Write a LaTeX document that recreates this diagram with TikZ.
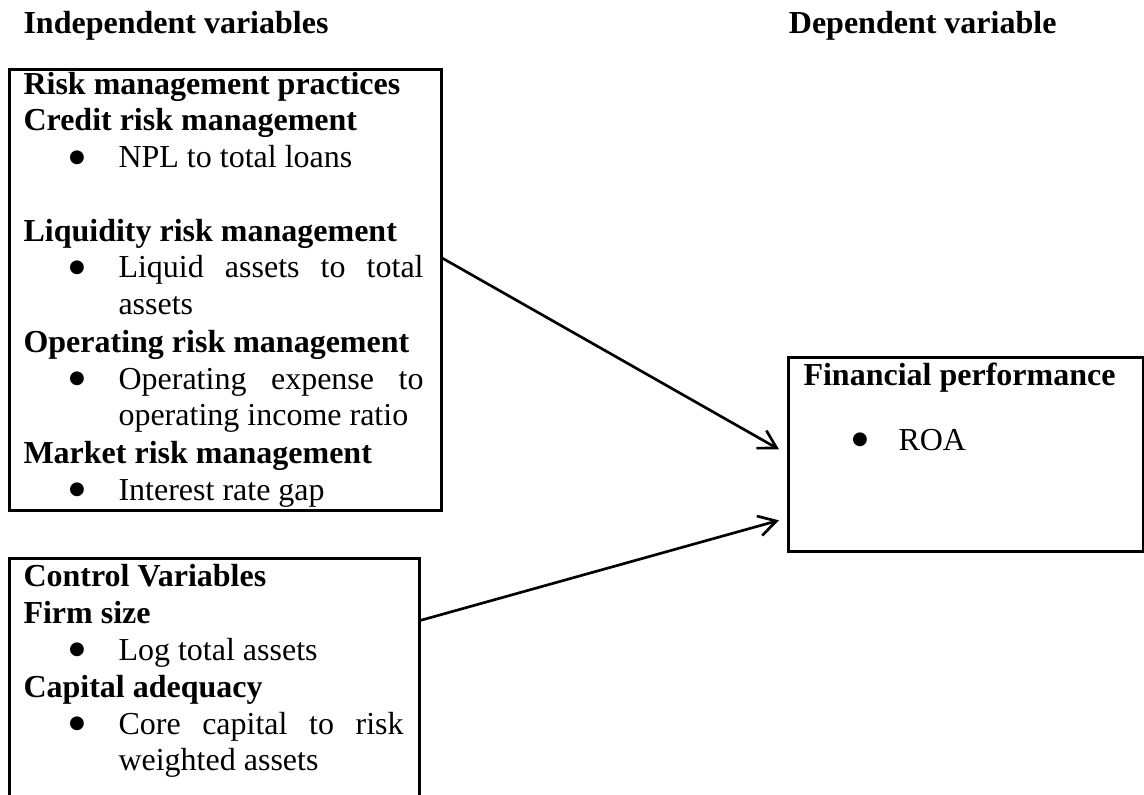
\documentclass[tikz,border=0pt]{standalone}
\usepackage{fontspec}
\setmainfont{Liberation Serif}
\newfontfamily\dejavu{DejaVu Sans}
\usetikzlibrary{arrows.meta,calc}
\newcommand{\bigbul}{\raisebox{2.0pt}{\dejavu\fontsize{6.8}{7}\selectfont ●}}
\begin{document}
\begin{tikzpicture}[x=0.375pt,y=-0.375pt,
  boxnode/.style={draw,line width=1pt,rectangle,inner sep=0pt,anchor=north west},
  boldtxt/.style={inner sep=0pt,anchor=base west,font=\fontsize{12}{13.9}\selectfont\bfseries},
  plaintxt/.style={inner sep=0pt,anchor=base west,font=\fontsize{12}{13.9}\selectfont},
  bul/.style={inner sep=0pt,anchor=base},
  arr/.style={line width=1pt,-{Straight Barb[length=6.6pt,width=7.6pt]}}]
\fill[white] (0,0) rectangle (1144,795);
\clip (0,0) rectangle (1144,795);

% headers
\node[boldtxt] (hind) at (23,34) {Independent variables};
\node[boldtxt,anchor=base east] (hdep) at (1057,34) {Dependent variable};

% box 1
\node[boxnode,minimum width=162pt,minimum height=165.375pt] (box1) at (8,68) {};
\node[boldtxt] (t1) at (23,95) {Risk management practices};
\node[boldtxt] (t2) at (23,131) {Credit risk management};
\node[bul] (b1) at (77,168) {\bigbul};
\node[plaintxt] (t3) at (118,168) {NPL to total loans};
\node[boldtxt] (t4) at (23,241) {Liquidity risk management};
\node[bul] (b2) at (77,278) {\bigbul};
\node[plaintxt] (t5) at (118,278) {\makebox[114.4pt][s]{Liquid assets to total}};
\node[plaintxt] (t6) at (118,315) {assets};
\node[boldtxt] (t7) at (23,352) {Operating risk management};
\node[bul] (b3) at (77,389) {\bigbul};
\node[plaintxt] (t8) at (118,389) {\makebox[114.4pt][s]{Operating expense to}};
\node[plaintxt] (t9) at (118,426) {operating income ratio};
\node[boldtxt] (t10) at (23,463) {Market risk management};
\node[bul] (b4) at (77,500) {\bigbul};
\node[plaintxt] (t11) at (118,500) {Interest rate gap};

% box 2 (control variables, cut by the page edge)
\node[boxnode,minimum width=153.75pt,minimum height=91.125pt] (box2) at (8,557) {};
\node[boldtxt] (c1) at (23,587) {Control Variables};
\node[boldtxt] (c2) at (23,623) {Firm size};
\node[bul] (cb1) at (77,660) {\bigbul};
\node[plaintxt] (c3) at (118,660) {Log total assets};
\node[boldtxt] (c4) at (23,697) {Capital adequacy};
\node[bul] (cb2) at (77,734) {\bigbul};
\node[plaintxt] (c5) at (118,734) {\makebox[106.9pt][s]{Core capital to risk}};
\node[plaintxt] (c6) at (118,770) {weighted assets};

% box 3 (dependent)
\node[boxnode,minimum width=133.125pt,minimum height=72.75pt] (fin) at (787,356) {};
\node[boldtxt] (f1) at (803,386) {Financial performance};
\node[bul] (fb1) at (860,450) {\bigbul};
\node[plaintxt] (f2) at (898,450) {ROA};

% arrows
\draw[arr] ($(box1.east)+(0,-31.5)$) -- ($(fin.west)+(-8,-5)$);
\draw[arr] ($(box2.east)+(0,-59.5)$) -- ($(fin.west)+(-8,66)$);
\end{tikzpicture}
\end{document}
